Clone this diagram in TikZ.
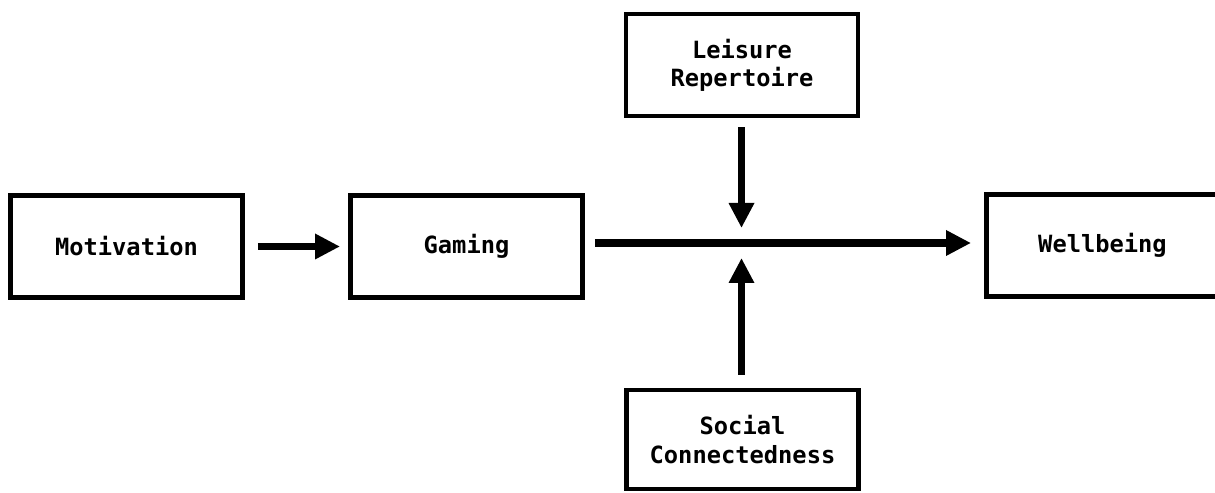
\documentclass[tikz,border=0pt]{standalone}
\usepackage{fontspec}
\setmonofont{DejaVu Sans Mono}
\usetikzlibrary{arrows.meta}
\tikzset{
  varbox/.style={draw=black, line width=2.8pt, fill=white, align=center,
    minimum width=4.64cm, minimum height=2.04cm, inner sep=0pt,
    font=\ttfamily\bfseries\fontsize{13.5}{16}\selectfont},
  path/.style={line width=4pt, draw=black,
    -{Triangle[length=0.5cm, width=0.48cm]}},
}

\begin{document}
\begin{tikzpicture}
\useasboundingbox (0,0) rectangle (24.3,9.84);
\node[varbox] (motivation) at (2.53,4.91) {Motivation};
\node[varbox] (gaming) at (9.33,4.91) {Gaming};
\node[varbox] (wellbeing) at (22.05,4.93) {Wellbeing};
\node[varbox] (leisure) at (14.84,8.54) {Leisure\\Repertoire};
\node[varbox, minimum height=1.98cm] (social) at (14.85,1.05) {Social\\Connectedness};
\coordinate (cross) at (14.83,4.98);
\draw[path, shorten <=0.26cm, shorten >=0.16cm] (motivation) -- (gaming);
\draw[path, shorten <=0.2cm, shorten >=0.26cm] (gaming.east |- cross) -- (wellbeing.west |- cross);
\draw[path, shorten <=0.18cm, shorten >=0.3cm] (cross |- leisure.south) -- (cross);
\draw[path, shorten <=0.26cm, shorten >=0.3cm] (cross |- social.north) -- (cross);
\end{tikzpicture}
\end{document}
